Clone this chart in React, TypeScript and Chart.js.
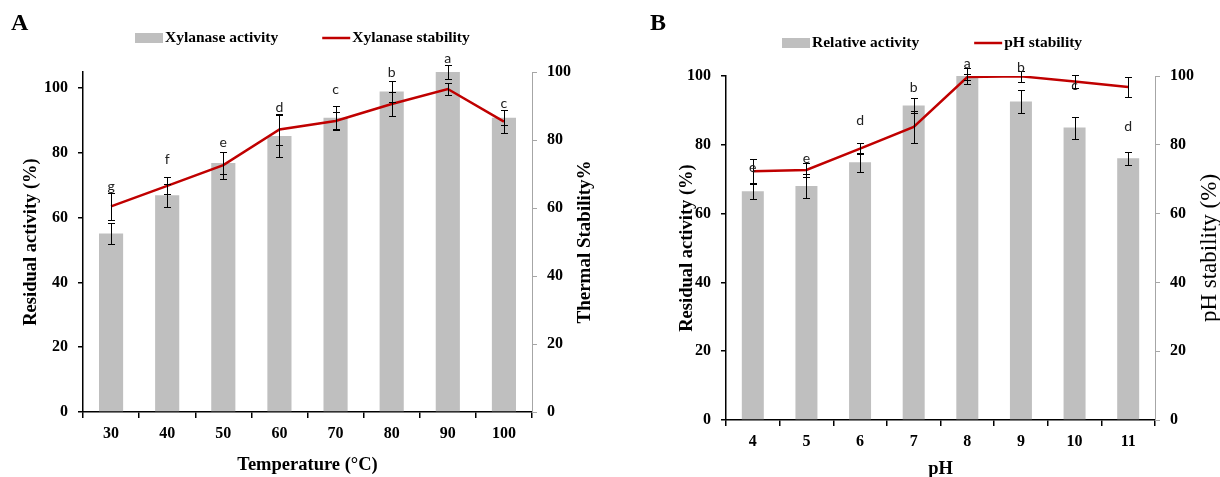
import React, { useEffect, useRef } from 'react';
import { Chart, registerables } from 'chart.js';

Chart.register(...registerables);

// ---------- Panel A data (temperature) ----------
const tempCategories = ['30', '40', '50', '60', '70', '80', '90', '100'];
const tempActivity = [55.1, 66.9, 76.9, 85.2, 90.9, 99.0, 105.0, 90.9];
const tempActivityErr = [3.2, 3.6, 3.5, 6.5, 3.7, 3.2, 2.3, 2.4];
const tempStability = [60.5, 66.5, 72.6, 83.1, 85.6, 90.6, 95.0, 85.4];
const tempStabilityErr = [4.0, 2.5, 4.0, 4.5, 2.5, 3.6, 1.9, 3.3];
const tempLetters = ['g', 'f', 'e', 'd', 'c', 'b', 'a', 'c'];
const tempLetterLevels = [69.5, 78.1, 83.2, 93.9, 99.6, 104.8, 109.3, 95.3];

// ---------- Panel B data (pH) ----------
const phCategories = ['4', '5', '6', '7', '8', '9', '10', '11'];
const phActivity = [66.5, 68.0, 74.9, 91.4, 100.0, 92.6, 85.0, 76.1];
const phActivityErr = [2.3, 3.6, 2.8, 2.3, 2.3, 3.4, 3.2, 1.9];
const phStability = [72.3, 72.7, 78.9, 85.2, 99.7, 99.9, 98.4, 96.8];
const phStabilityErr = [3.6, 2.0, 1.7, 4.6, 0.8, 1.5, 2.0, 3.0];
const phLetters = ['e', 'e', 'd', 'b', 'a', 'b', 'c', 'd'];
const phLetterLevels = [73.5, 76.1, 87.1, 96.6, 103.7, 102.4, 97.3, 85.2];

// ---------- shared tick labels ----------
const yTickValues = [0, 20, 40, 60, 80, 100];

const SERIF = '"Liberation Serif", "Times New Roman", serif';
const SANS = 'Lato, "Liberation Sans", sans-serif';
const BAR_COLOR = '#bfbfbf';
const LINE_COLOR = '#c00000';

const overlayPlugin = {
  id: 'overlay',
  afterDatasetsDraw(chart: any, _args: any, o: any) {
    const ctx = chart.ctx;
    const xs = chart.scales.x;
    const ys = chart.scales.y;
    const y1 = chart.scales.y1;
    const cap = 3.5;
    ctx.save();
    ctx.strokeStyle = '#000';
    ctx.lineWidth = 1;
    const drawErr = (cx: number, scale: any, v: number, e: number) => {
      const t = Math.round(scale.getPixelForValue(v + e)) + 0.5;
      const b = Math.round(scale.getPixelForValue(v - e)) + 0.5;
      const x = Math.round(cx) + 0.5;
      ctx.beginPath();
      ctx.moveTo(x, t);
      ctx.lineTo(x, b);
      ctx.moveTo(x - cap, t);
      ctx.lineTo(x + cap, t);
      ctx.moveTo(x - cap, b);
      ctx.lineTo(x + cap, b);
      ctx.stroke();
    };
    o.activity.forEach((v: number, i: number) => drawErr(xs.getPixelForValue(i), ys, v, o.activityErr[i]));
    o.stability.forEach((v: number, i: number) => drawErr(xs.getPixelForValue(i), y1, v, o.stabilityErr[i]));
    ctx.restore();
  },
  afterDraw(chart: any, _args: any, o: any) {
    const ctx = chart.ctx;
    const xs = chart.scales.x;
    const ys = chart.scales.y;
    const area = chart.chartArea;
    ctx.save();
    // significance letters
    ctx.fillStyle = '#222';
    ctx.font = `14px ${SANS}`;
    ctx.textAlign = 'center';
    ctx.textBaseline = 'middle';
    o.letters.forEach((l: string, i: number) => {
      ctx.fillText(l, xs.getPixelForValue(i), ys.getPixelForValue(o.letterLevels[i]));
    });
    // panel letter
    ctx.fillStyle = '#000';
    ctx.font = `bold 24px ${SERIF}`;
    ctx.textAlign = 'left';
    ctx.textBaseline = 'alphabetic';
    ctx.fillText(o.panel, o.panelX, 30);
    // legend
    ctx.font = `bold 15.5px ${SERIF}`;
    ctx.textBaseline = 'middle';
    const box = 28;
    let lx = o.legendX;
    const ly = o.legendY;
    ctx.fillStyle = BAR_COLOR;
    ctx.fillRect(lx, ly - 5, box, 10);
    ctx.fillStyle = '#000';
    ctx.fillText(o.barLabel, lx + box + 2, ly);
    lx += box + 2 + ctx.measureText(o.barLabel).width + o.legendGap;
    ctx.strokeStyle = LINE_COLOR;
    ctx.lineWidth = 2.5;
    ctx.beginPath();
    ctx.moveTo(lx, ly);
    ctx.lineTo(lx + box, ly);
    ctx.stroke();
    ctx.fillText(o.lineLabel, lx + box + 2, ly);
    // right axis title (reads bottom to top)
    ctx.translate(o.rightTitleX, (area.top + area.bottom) / 2);
    ctx.rotate(-Math.PI / 2);
    ctx.textAlign = 'center';
    ctx.textBaseline = 'middle';
    ctx.font = o.rightTitleFont;
    ctx.fillText(o.rightTitle, 0, 0);
    ctx.restore();
  },
};

type PanelCfg = {
  categories: string[];
  activity: number[];
  activityErr: number[];
  stability: number[];
  stabilityErr: number[];
  letters: string[];
  letterLevels: number[];
  leftMax: number;
  barLabel: string;
  lineLabel: string;
  xTitle: string;
  rightTitle: string;
  rightTitleFont: string;
  rightTitleX: number;
  panel: string;
  panelX: number;
  legendX: number;
  legendY: number;
  legendGap: number;
  padTop: number;
  leftWidth: number;
  rightWidth: number;
  bottomHeight: number;
  leftTitlePad: number;
  xTickPad: number;
  xTitlePad: number;
  barPct: number;
};

function buildConfig(c: PanelCfg): any {
  const tickFont = { family: SERIF, size: 16, weight: 'bold' as const };
  const titleFont = { family: SERIF, size: 18.5, weight: 'bold' as const };
  return {
    type: 'bar',
    data: {
      labels: c.categories,
      datasets: [
        {
          type: 'line',
          label: c.lineLabel,
          data: c.stability,
          yAxisID: 'y1',
          borderColor: LINE_COLOR,
          backgroundColor: LINE_COLOR,
          borderWidth: 2.5,
          pointRadius: 0,
          tension: 0,
          order: 0,
        },
        {
          type: 'bar',
          label: c.barLabel,
          data: c.activity,
          yAxisID: 'y',
          backgroundColor: BAR_COLOR,
          barPercentage: c.barPct,
          categoryPercentage: 1,
          order: 1,
        },
      ],
    },
    options: {
      responsive: false,
      animation: false,
      layout: { padding: { top: c.padTop, left: 0, right: 0, bottom: 0 } },
      plugins: {
        legend: { display: false },
        tooltip: { enabled: false },
        overlay: {
          activity: c.activity,
          activityErr: c.activityErr,
          stability: c.stability,
          stabilityErr: c.stabilityErr,
          letters: c.letters,
          letterLevels: c.letterLevels,
          panel: c.panel,
          panelX: c.panelX,
          legendX: c.legendX,
          legendY: c.legendY,
          legendGap: c.legendGap,
          barLabel: c.barLabel,
          lineLabel: c.lineLabel,
          rightTitle: c.rightTitle,
          rightTitleFont: c.rightTitleFont,
          rightTitleX: c.rightTitleX,
        },
      },
      scales: {
        x: {
          type: 'category',
          offset: true,
          grid: {
            offset: true,
            drawOnChartArea: false,
            drawTicks: true,
            tickLength: 6,
            color: '#000',
            lineWidth: 1.5,
          },
          border: { display: true, color: '#000', width: 1.5 },
          ticks: { color: '#000', font: tickFont, padding: c.xTickPad, maxRotation: 0, autoSkip: false },
          title: {
            display: true,
            text: c.xTitle,
            color: '#000',
            font: titleFont,
            padding: { top: 0, bottom: c.xTitlePad },
          },
          afterFit: (s: any) => {
            s.height = c.bottomHeight;
          },
        },
        y: {
          position: 'left',
          min: 0,
          max: c.leftMax,
          ticks: { color: '#000', font: tickFont, padding: 10 },
          afterBuildTicks: (s: any) => {
            s.ticks = yTickValues.map((v) => ({ value: v }));
          },
          grid: { drawOnChartArea: false, drawTicks: true, tickLength: 5, color: '#000', lineWidth: 1.5 },
          border: { display: true, color: '#000', width: 1.5 },
          title: {
            display: true,
            text: 'Residual activity (%)',
            color: '#000',
            font: titleFont,
            padding: { top: c.leftTitlePad, bottom: 0 },
          },
          afterFit: (s: any) => {
            s.width = c.leftWidth;
          },
        },
        y1: {
          position: 'right',
          min: 0,
          max: 100,
          ticks: { color: '#000', font: tickFont, padding: 10 },
          afterBuildTicks: (s: any) => {
            s.ticks = yTickValues.map((v) => ({ value: v }));
          },
          grid: { drawOnChartArea: false, drawTicks: true, tickLength: 5, color: '#a6a6a6' },
          border: { display: true, color: '#a6a6a6', width: 1 },
          afterFit: (s: any) => {
            s.width = c.rightWidth;
          },
        },
      },
    },
    plugins: [overlayPlugin],
  };
}

const panelA: PanelCfg = {
  categories: tempCategories,
  activity: tempActivity,
  activityErr: tempActivityErr,
  stability: tempStability,
  stabilityErr: tempStabilityErr,
  letters: tempLetters,
  letterLevels: tempLetterLevels,
  leftMax: 105,
  barLabel: 'Xylanase activity',
  lineLabel: 'Xylanase stability',
  xTitle: 'Temperature (°C)',
  rightTitle: 'Thermal Stability%',
  rightTitleFont: `bold 19px ${SERIF}`,
  rightTitleX: 585,
  panel: 'A',
  panelX: 11,
  legendX: 135,
  legendY: 38,
  legendGap: 44,
  padTop: 72,
  leftWidth: 83,
  rightWidth: 78,
  bottomHeight: 65,
  leftTitlePad: 20,
  xTickPad: 6,
  xTitlePad: 1,
  barPct: 0.43,
};

const panelB: PanelCfg = {
  categories: phCategories,
  activity: phActivity,
  activityErr: phActivityErr,
  stability: phStability,
  stabilityErr: phStabilityErr,
  letters: phLetters,
  letterLevels: phLetterLevels,
  leftMax: 100,
  barLabel: 'Relative activity',
  lineLabel: 'pH stability',
  xTitle: 'pH',
  rightTitle: 'pH stability (%)',
  rightTitleFont: `23px ${SERIF}`,
  rightTitleX: 600,
  panel: 'B',
  panelX: 40,
  legendX: 172,
  legendY: 43,
  legendGap: 55,
  padTop: 76,
  leftWidth: 116,
  rightWidth: 65,
  bottomHeight: 57,
  leftTitlePad: 66,
  xTickPad: 6,
  xTitlePad: -3,
  barPct: 0.41,
};

function Panel({ cfg, left }: { cfg: PanelCfg; left: number }) {
  const ref = useRef<HTMLCanvasElement>(null);
  useEffect(() => {
    if (!ref.current) return;
    const chart = new Chart(ref.current, buildConfig(cfg));
    return () => chart.destroy();
  }, [cfg]);
  return (
    <canvas
      ref={ref}
      width={610}
      height={477}
      style={{ position: 'absolute', left, top: 0, width: 610, height: 477 }}
    />
  );
}

export default function App() {
  return (
    <div style={{ position: 'fixed', left: 0, top: 0, width: 1220, height: 477, background: '#fff' }}>
      <Panel cfg={panelA} left={0} />
      <Panel cfg={panelB} left={610} />
    </div>
  );
}
